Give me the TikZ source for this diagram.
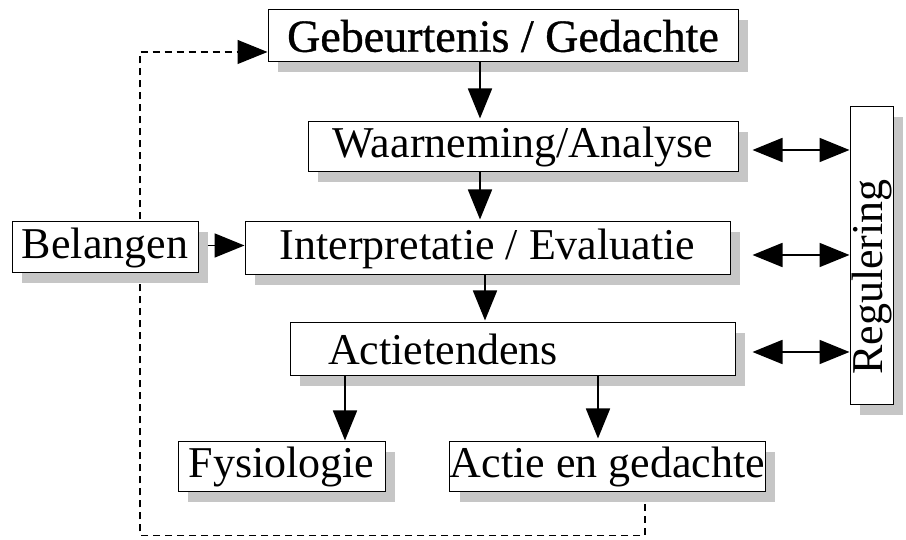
\documentclass[tikz,border=0pt]{standalone}
\usepackage{fontspec}
\setmainfont{Liberation Serif}
\newfontfamily\vetfont[FakeBold=0.8]{Liberation Serif}
\usetikzlibrary{shadows,arrows.meta,backgrounds}

\tikzset{
  blok/.style={draw, line width=1pt, fill=white, inner sep=0pt,
    font=\fontsize{44}{50}\selectfont,
    drop shadow={shadow xshift=10pt, shadow yshift=-10pt, fill=gray!45, opacity=1}},
  pijl/.style={line width=1.8pt, arrows={-Triangle[length=30pt,width=24pt]}},
  dubbel/.style={line width=1.8pt, arrows={Triangle[length=30pt,width=24pt]-Triangle[length=30pt,width=24pt]}},
  terug/.style={line width=1.2pt, dash pattern=on 7pt off 5pt, arrows={-Triangle[length=30pt,width=24pt]}}
}

\begin{document}
\begin{tikzpicture}[x=1pt,y=1pt]
  \useasboundingbox (0,0) rectangle (906,540);

  % de blokken
  \node[blok, minimum width=470pt, minimum height=52pt, font=\fontsize{46}{50}\vetfont] (geb) at (503,504) {Gebeurtenis / Gedachte};
  \node[blok, minimum width=430pt, minimum height=50pt] (waar) at (523,393) {Waarneming/Analyse};
  \node[blok, minimum width=485pt, minimum height=53pt] (interp) at (487.5,291.5) {Interpretatie / Evaluatie};
  \node[blok, text width=369pt, align=left, inner xsep=38pt, minimum height=53pt] (actie) at (512.5,190.5) {Actietendens};
  \node[blok, minimum width=186pt, minimum height=51pt] (bel) at (105,292.5) {Belangen};
  \node[blok, minimum width=207pt, minimum height=50pt] (fys) at (281.5,73) {Fysiologie};
  \node[blok, minimum width=295pt, minimum height=50pt] (actged) at (607.5,73) {Actie en gedachte};
  \node[blok, minimum width=43pt, minimum height=298pt] (reg) at (871.5,284) {\rotatebox{90}{Regulering\hspace{42pt}}};

  % pijlen omlaag
  \draw[pijl] ([xshift=-23pt]geb.south) -- ([xshift=-43pt,yshift=3pt]waar.north);
  \draw[pijl] ([xshift=-43pt]waar.south) -- ([xshift=-7.5pt,yshift=2pt]interp.north);
  \draw[pijl] ([xshift=-2.5pt]interp.south) -- ([xshift=-27.5pt,yshift=2pt]actie.north);
  \draw[pijl] ([xshift=-167.5pt]actie.south) -- ([xshift=63.5pt,yshift=1pt]fys.north);
  \draw[pijl] ([xshift=85.5pt]actie.south) -- ([xshift=-9.5pt,yshift=3pt]actged.north);
  \draw[pijl, shorten <=9pt] ([yshift=2pt]bel.east) -- ([yshift=3pt]interp.west);

  % naar regulering
  \coordinate (r1) at ([xshift=14pt,yshift=-3pt]waar.east);
  \coordinate (r2) at ([xshift=22pt,yshift=-6.5pt]interp.east);
  \coordinate (r3) at ([xshift=17pt,yshift=-2.5pt]actie.east);
  \draw[dubbel] (r1) -- (r1 -| reg.west);
  \draw[dubbel] (r2) -- (r2 -| reg.west);
  \draw[dubbel] (r3) -- (r3 -| reg.west);

  % terugkoppeling
  \begin{pgfonlayer}{background}
    \draw[terug] ([xshift=37.5pt]actged.south) -- ++(0,-43) -| (140,488) -- ([yshift=-16pt]geb.west);
  \end{pgfonlayer}
\end{tikzpicture}
\end{document}
